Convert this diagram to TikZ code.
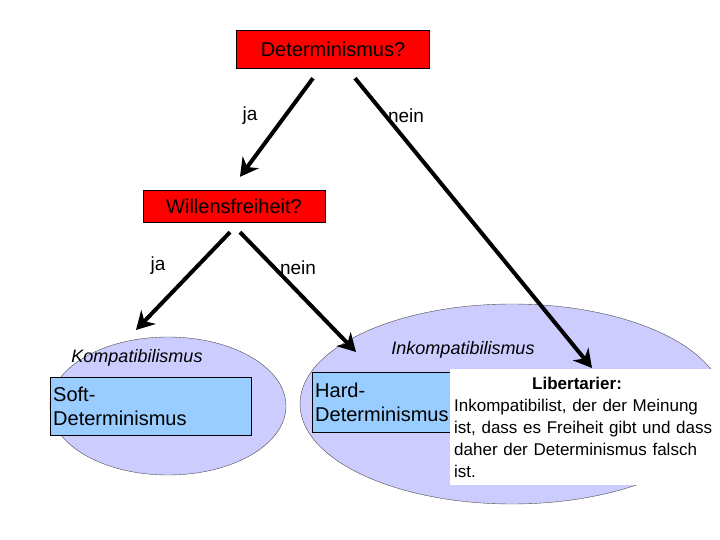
\documentclass[tikz,border=0pt]{standalone}
\usepackage{fontspec}
\setmainfont{Liberation Sans}
\usetikzlibrary{arrows.meta}
\definecolor{hellblau}{HTML}{99CCFF}
\definecolor{lila}{HTML}{CCCCFF}
\tikzset{
  frage/.style={draw, fill=red, inner sep=3pt, font=\fontsize{20}{24}\selectfont},
  lbl/.style={font=\fontsize{19}{23}\selectfont},
  kasten/.style={draw, fill=hellblau, text width=195pt, align=left, inner sep=3pt, font=\fontsize{20}{24}\selectfont},
  pfeil/.style={line width=4pt, -{Stealth[length=18pt,width=20pt]}},
  lage/.style={draw=black!70, fill=lila}
}
\begin{document}
\begin{tikzpicture}[x=1pt,y=-1pt]
\useasboundingbox (0,0) rectangle (720,540);
\begin{scope}
\clip (0,0) rectangle (720,540);
% Ellipsen
\draw[lage] (512,404) ellipse [x radius=212, y radius=100];
\draw[lage] (168,406) ellipse [x radius=118, y radius=69];
\node[font=\fontsize{18}{22}\selectfont\itshape] (komp) at (137,358) {Kompatibilismus};
\node[font=\fontsize{18}{22}\selectfont\itshape] (inkomp) at (463,350) {Inkompatibilismus};
\node[kasten, minimum height=58pt, anchor=north west] (soft) at (50,377) {Soft-\\Determinismus};
\node[kasten, text width=170pt, minimum height=60pt, anchor=north west] (hard) at (312,372) {Hard-\\Determinismus};
\node[fill=white, anchor=north west, text width=270pt, minimum height=116pt, align=left, inner sep=4pt, font=\fontsize{17}{22}\selectfont] (lib) at (450,369)
  {\hspace*{78pt}\textbf{Libertarier:}\\Inkompatibilist, der der Meinung\\ist, dass es Freiheit gibt und dass\\daher der Determinismus falsch\\ist.};
\end{scope}
% Fragen
\node[frage, minimum width=193pt, minimum height=38pt] (det) at (333,49) {Determinismus?};
\node[frage, minimum width=182pt, minimum height=32pt] (will) at (234,206) {Willensfreiheit?};
\node[lbl] (ja1) at (250,116) {ja};
\node[lbl] (nein1) at (406,116) {nein};
\node[lbl] (ja2) at (158,266) {ja};
\node[lbl] (nein2) at (298,268) {nein};
\coordinate (libz) at (592,368);
\coordinate (hardz) at (356,352);
\coordinate (softz) at (136,330);
\draw[pfeil] ([xshift=-20pt,yshift=-10pt]det.south) -- ([xshift=6pt,yshift=13pt]will.north);
\draw[pfeil] ([xshift=22pt,yshift=-10pt]det.south) -- (libz);
\draw[pfeil] ([xshift=-4pt,yshift=-10pt]will.south) -- (softz);
\draw[pfeil] ([xshift=6pt,yshift=-10pt]will.south) -- (hardz);
\end{tikzpicture}
\end{document}
